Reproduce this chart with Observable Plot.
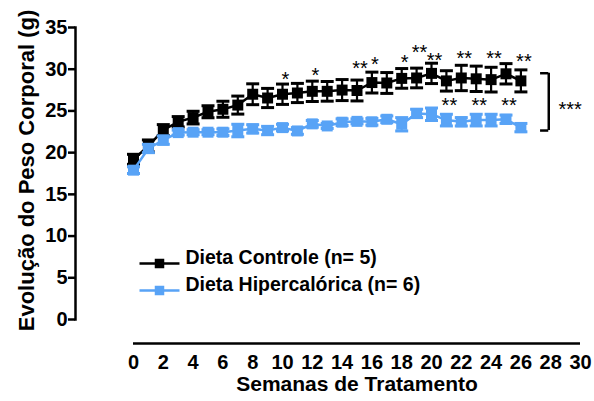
<!DOCTYPE html>
<html>
<head>
<meta charset="utf-8">
<script src="https://cdn.jsdelivr.net/npm/d3@7"></script>
<script src="https://cdn.jsdelivr.net/npm/@observablehq/plot@0.6"></script>
<style>
  html, body { margin: 0; padding: 0; background: #fff; }
  #chart svg { display: block; }
</style>
</head>
<body>
<div id="chart"></div>
<script>
// Body weight over the treatment weeks (mean ± SEM, g)
const weeks = d3.range(0, 27);

const controlMean = [19.2, 20.8, 22.7, 23.7, 24.2, 24.9, 25.2, 25.7, 27.0, 26.55, 27.0, 27.15, 27.35, 27.35,
  27.5, 27.45, 28.4, 28.35, 28.9, 28.95, 29.5, 28.6, 28.95, 28.85, 28.75, 29.45, 28.6];
const controlSem = [0.6, 0.72, 0.66, 0.62, 0.76, 0.72, 0.96, 1.08, 1.25, 1.15, 1.22, 1.15, 1.22, 1.18,
  1.26, 1.25, 1.25, 1.25, 1.18, 1.18, 1.22, 1.22, 1.52, 1.52, 1.48, 1.22, 1.32];

const hyperMean = [17.9, 20.5, 21.5, 22.4, 22.45, 22.45, 22.45, 22.65, 22.85, 22.65, 23.0, 22.6, 23.45, 23.2,
  23.65, 23.75, 23.7, 24.0, 23.4, 24.7, 24.6, 23.9, 23.7, 23.9, 23.9, 24.0, 23.0];
const hyperSem = [0.4, 0.5, 0.5, 0.3, 0.3, 0.3, 0.4, 0.75, 0.5, 0.5, 0.4, 0.4, 0.4, 0.3,
  0.4, 0.3, 0.4, 0.4, 0.8, 0.5, 0.75, 0.7, 0.5, 0.7, 0.7, 0.5, 0.5];

const seriesNames = ["Dieta Controle (n= 5)", "Dieta Hipercalórica (n= 6)"];
const seriesColors = ["#000000", "#58a3f6"];

// Significance marks per week (y in grams where each mark sits)
const sigAboveWeek = [10, 12, 15, 16, 18, 19, 20, 22, 24, 26];
const sigAboveText = ["*", "*", "**", "*", "*", "**", "**", "**", "**", "**"];
const sigAboveY = [29.4, 29.8, 30.7, 31.2, 31.4, 32.6, 31.6, 31.9, 31.9, 31.5];
const sigBelowWeek = [21, 23, 25];
const sigBelowText = ["**", "**", "**"];
const sigBelowY = [26.2, 26.2, 26.2];

// Overall group comparison bracket
const bracketX = 27.87;
const bracketTickX = 27.32;
const bracketY = [22.65, 29.52];
const bracketText = "***";
const bracketTextPos = [28.52, 25.77];

const xTicks = d3.range(0, 31, 2);
const yTicks = d3.range(0, 36, 5);
const xLabel = "Semanas de Tratamento";
const yLabel = "Evolução do Peso Corporal (g)";

const control = weeks.map((w, i) => ({week: w, mean: controlMean[i], sem: controlSem[i]}));
const hyper = weeks.map((w, i) => ({week: w, mean: hyperMean[i], sem: hyperSem[i]}));
const sigAbove = sigAboveWeek.map((w, i) => ({week: w, text: sigAboveText[i], y: sigAboveY[i]}));
const sigBelow = sigBelowWeek.map((w, i) => ({week: w, text: sigBelowText[i], y: sigBelowY[i]}));

// Horizontal cap for error bars; width follows r
const capSymbol = {
  draw(ctx, size) {
    const h = Math.sqrt(size / Math.PI);
    ctx.moveTo(-h, 0);
    ctx.lineTo(h, 0);
  }
};
// Legend swatch: line with a square in the middle
const swatchSymbol = {
  draw(ctx) {
    ctx.moveTo(-20, 0);
    ctx.lineTo(20, 0);
    ctx.moveTo(-3.5, -3.5);
    ctx.lineTo(3.5, -3.5);
    ctx.lineTo(3.5, 3.5);
    ctx.lineTo(-3.5, 3.5);
    ctx.closePath();
  }
};

function seriesMarks(data, color) {
  return [
    Plot.line(data, {x: "week", y: "mean", stroke: color, strokeWidth: 2.5}),
    Plot.ruleX(data, {x: "week", y1: d => d.mean - d.sem, y2: d => d.mean + d.sem, stroke: color, strokeWidth: 2.2}),
    Plot.dot(data, {x: "week", y: d => d.mean + d.sem, symbol: capSymbol, r: 6.5, stroke: color, strokeWidth: 3}),
    Plot.dot(data, {x: "week", y: d => d.mean - d.sem, symbol: capSymbol, r: 6.5, stroke: color, strokeWidth: 3}),
    Plot.dot(data, {x: "week", y: "mean", symbol: "square", r: 6.2, fill: color, stroke: null})
  ];
}

// One legend row: swatch plus label, placed from the frame's lower-left corner
function legendRow(i) {
  const row = [{name: seriesNames[i], color: seriesColors[i]}];
  const dy = -56 + 27 * i;
  return [
    Plot.dot(row, {frameAnchor: "bottom-left", dx: 84, dy, symbol: swatchSymbol, fill: "color", stroke: "color", strokeWidth: 2.5}),
    Plot.text(row, {frameAnchor: "bottom-left", dx: 110, dy, text: "name", textAnchor: "start", fontSize: 19.5})
  ];
}

const chart = Plot.plot({
  width: 594,
  height: 401,
  marginLeft: 75,
  marginRight: 14,
  marginTop: 27,
  marginBottom: 82,
  style: {fontFamily: "'Liberation Sans', Arial, sans-serif", fontWeight: "bold", fontSize: "20px", color: "#000", background: "#fff"},
  x: {domain: [0, 30], range: [133, 580]},
  y: {domain: [0, 35]},
  marks: [
    Plot.frame({anchor: "left", strokeWidth: 2.5}),
    Plot.axisY({ticks: yTicks, tickSize: 7, tickPadding: 1, strokeWidth: 2.5, label: null, fontSize: 20}),
    Plot.ruleY([0], {x1: 0, x2: 30, dy: 24, strokeWidth: 2.5}),
    Plot.axisX({ticks: xTicks, tickSize: 0, tickPadding: 35, label: null, fontSize: 20}),
    Plot.text([yLabel], {frameAnchor: "left", textAnchor: "middle", rotate: -90, dx: -49, dy: -3, fontSize: 22}),
    Plot.text([xLabel], {x: d3.mean([0, 30]), frameAnchor: "bottom", textAnchor: "middle", dy: 71, fontSize: 21}),
    ...seriesMarks(control, seriesColors[0]),
    ...seriesMarks(hyper, seriesColors[1]),
    Plot.text(sigAbove, {x: "week", y: "y", text: "text", dx: 3, dy: 5, fontSize: 20, fontWeight: "normal"}),
    Plot.text(sigBelow, {x: "week", y: "y", text: "text", dx: 3, dy: 5, fontSize: 20, fontWeight: "normal"}),
    Plot.ruleX([bracketX], {y1: bracketY[0], y2: bracketY[1], strokeWidth: 2.5}),
    Plot.ruleY(bracketY, {x1: bracketTickX, x2: bracketX, strokeWidth: 2.5}),
    Plot.text([bracketText], {x: bracketTextPos[0], y: bracketTextPos[1], textAnchor: "start", dy: 5, fontSize: 20, fontWeight: "normal"}),
    ...legendRow(0),
    ...legendRow(1)
  ]
});

document.getElementById("chart").appendChild(chart);
</script>
</body>
</html>
